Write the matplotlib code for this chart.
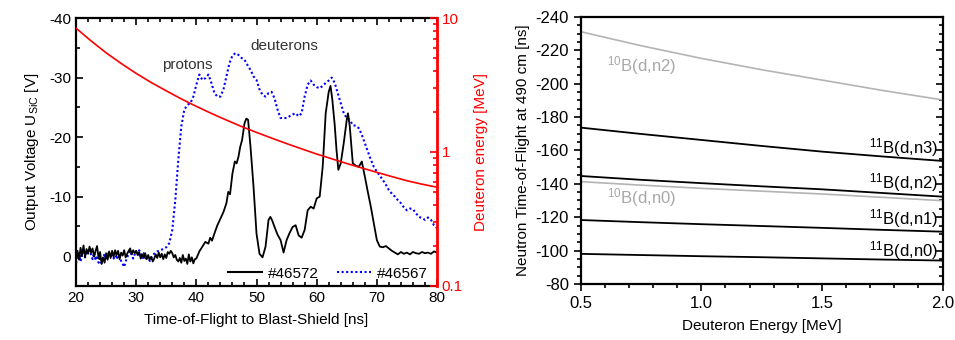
import numpy as np
import matplotlib
matplotlib.use("Agg")
import matplotlib.pyplot as plt
from matplotlib.ticker import MultipleLocator, LogLocator, NullFormatter
from matplotlib.lines import Line2D

# ---- left panel: SiC detector traces ----
t_noise_black = np.arange(20.0, 40.0, 0.25)
v_noise_black = [0.3, -0.9, 0.6, -1.4, -0.2, -1.8, 0.2, -1.2, -0.4, -1.6,
                 -0.6, -1.3, 0.1, -0.9, -1.7, 0.4, -0.7, 1.3, 0.2, 1.1,
                 -0.5, 0.6, -0.8, 0.3, -0.9, 0.1, -1.0, -0.2, -0.9, 0.5,
                 -0.6, -0.1, -1.0, 0.2, -0.4, -0.9, -1.3, -0.3, -1.0, -0.5,
                 -0.9, -0.2, -0.7, 0.4, -0.3, 0.3, -0.5, 0.5, -0.2, 0.6,
                 0.1, 0.9, 0.4, -0.3, 0.3, -0.6, 0.2, -0.4, 0.5, -0.3,
                 0.3, -0.7, -0.4, -0.9, -0.5, 0.2, -0.2, 0.6, 0.9, 0.3,
                 1.1, -0.2, 0.8, 0.4, 1.3, -0.3, 0.9, 0.2, 1.2, 0.5]
t_pulse_black = [40.0, 40.5, 41.0, 41.5, 42.0, 42.3, 42.6, 43.0, 43.5, 44.0,
                 44.5, 45.0, 45.3, 45.6, 46.0, 46.4, 46.7, 47.0, 47.3, 47.6,
                 48.0, 48.3, 48.6, 49.0, 49.5, 50.0, 50.5, 51.0, 51.5, 52.0,
                 52.3, 52.6, 53.0, 53.5, 54.0, 54.5, 55.0, 55.5, 56.0, 56.5,
                 57.0, 57.5, 58.0, 58.5, 59.0, 59.5, 60.0, 60.5, 61.0, 61.5,
                 62.0, 62.3, 62.6, 63.0, 63.3, 63.6, 64.0, 64.5, 65.0, 65.2,
                 65.5, 66.0, 66.5, 67.0, 67.5, 68.0, 68.5, 69.0, 69.5, 70.0,
                 70.5, 71.0, 71.5, 72.0, 72.5, 73.0, 73.5, 74.0, 74.5, 75.0,
                 75.5, 76.0, 76.5, 77.0, 77.5, 78.0, 78.5, 79.0, 79.5, 80.0]
v_pulse_black = [0.4, -0.8, -1.6, -2.4, -2.1, -3.1, -2.6, -3.8, -5.2, -6.3,
                 -7.4, -8.9, -10.8, -10.4, -13.9, -15.9, -15.6, -16.7, -18.4, -19.5,
                 -22.3, -23.1, -22.9, -18.4, -11.7, -3.8, -0.4, 0.2, -1.6, -6.1,
                 -6.6, -6.0, -4.9, -3.6, -2.7, -0.6, -2.7, -3.9, -4.9, -5.2,
                 -3.5, -3.1, -4.4, -7.7, -8.3, -8.0, -9.7, -10.0, -15.0, -24.0,
                 -27.6, -28.6, -26.3, -22.0, -17.8, -14.5, -15.6, -19.0, -22.9, -24.0,
                 -21.8, -15.6, -15.2, -15.0, -15.9, -13.4, -10.8, -8.3, -5.5, -2.7,
                 -1.6, -1.5, -1.7, -1.3, -0.9, -0.6, -0.3, -0.7, -0.4, -0.6,
                 -0.3, -0.7, -0.5, -0.4, -0.7, -0.5, -0.6, -0.4, -0.8, -0.6]

t_noise_blue = np.arange(20.0, 33.0, 0.25)
v_noise_blue = [1.2, 0.3, -0.8, 0.9, -0.3, -1.1, 0.2, -0.9, -0.4, -1.4,
                -0.2, 0.5, -0.6, 0.7, -0.1, 1.1, 0.4, 1.2, 0.3, -0.4,
                0.6, -0.2, -0.7, 0.2, -0.5, 0.4, -0.6, 0.5, -0.2, 0.3,
                0.8, 1.3, 1.8, 0.9, 0.2, -0.4, -0.9, -0.2, 0.4, -0.3,
                -0.8, -0.1, -1.0, -0.4, 0.3, -0.5, 0.2, 0.6, 0.1, 0.8,
                0.3, -0.2]
t_pulse_blue = [33.0, 33.5, 34.0, 34.5, 35.0, 35.5, 36.0, 36.5, 37.0, 37.5,
                38.0, 38.5, 39.0, 39.5, 40.0, 40.5, 41.0, 41.5, 42.0, 42.5,
                43.0, 43.5, 44.0, 44.5, 45.0, 45.5, 46.0, 46.5, 47.0, 47.5,
                48.0, 48.5, 49.0, 49.5, 50.0, 50.5, 51.0, 51.5, 52.0, 52.5,
                53.0, 53.5, 54.0, 54.5, 55.0, 55.5, 56.0, 56.5, 57.0, 57.5,
                58.0, 58.5, 59.0, 59.5, 60.0, 60.5, 61.0, 61.5, 62.0, 62.5,
                63.0, 63.5, 64.0, 64.5, 65.0, 65.5, 66.0, 66.5, 67.0, 67.5,
                68.0, 68.5, 69.0, 69.5, 70.0, 70.5, 71.0, 71.5, 72.0, 72.5,
                73.0, 73.5, 74.0, 74.5, 75.0, 75.5, 76.0, 76.5, 77.0, 77.5,
                78.0, 78.5, 79.0, 79.5, 80.0]
v_pulse_blue = [-0.4, -0.8, -1.0, -1.2, -1.5, -2.2, -4.4, -9.4, -16.2, -21.8,
                -24.6, -25.4, -25.7, -26.8, -28.8, -30.5, -29.6, -29.9, -30.5, -29.1,
                -27.4, -26.8, -26.8, -28.0, -30.2, -32.4, -33.7, -34.1, -33.8, -33.3,
                -33.0, -32.1, -31.3, -30.2, -29.6, -28.0, -27.1, -26.8, -27.4, -27.6,
                -26.5, -24.6, -23.2, -23.2, -23.2, -23.5, -23.8, -24.0, -23.5, -24.0,
                -26.8, -28.8, -29.5, -28.8, -28.4, -28.2, -28.6, -29.1, -29.5, -30.0,
                -29.1, -27.4, -25.7, -24.0, -23.2, -22.9, -22.0, -21.9, -21.5, -20.4,
                -19.0, -17.6, -16.2, -15.0, -14.2, -13.5, -12.8, -12.0, -11.1, -10.5,
                -10.0, -9.4, -8.9, -8.2, -7.7, -8.0, -7.9, -7.2, -6.6, -6.4,
                -6.1, -6.5, -6.1, -5.2, -4.7]

t_energy = [20, 22.5, 25, 27.5, 30, 32.5, 35, 37.5, 40, 42.5, 45, 47.5, 50,
            52.5, 55, 57.5, 60, 62.5, 65, 67.5, 70, 72.5, 75, 77.5, 80]
e_energy = [8.4, 6.75, 5.5, 4.58, 3.86, 3.3, 2.86, 2.49, 2.19, 1.94, 1.73, 1.55, 1.40,
            1.27, 1.155, 1.055, 0.965, 0.89, 0.82, 0.76, 0.705, 0.655, 0.61, 0.575, 0.546]

# ---- right panel: neutron time-of-flight ----
e_deut = [0.5, 0.75, 1.0, 1.25, 1.5, 1.75, 2.0]
tof_10b_n2 = [-231.2, -222.8, -215.2, -208.4, -202.2, -196.0, -190.3]
tof_11b_n3 = [-173.7, -169.9, -166.3, -162.7, -159.3, -156.4, -153.7]
tof_11b_n2 = [-144.7, -142.4, -140.4, -138.5, -136.7, -134.5, -132.3]
tof_10b_n0 = [-141.3, -139.2, -137.3, -135.6, -133.9, -131.9, -129.9]
tof_11b_n1 = [-118.3, -117.0, -115.8, -114.7, -113.6, -112.4, -111.3]
tof_11b_n0 = [-98.0, -97.3, -96.6, -96.0, -95.3, -94.6, -94.0]

plt.rcParams["font.family"] = "Liberation Sans"
plt.rcParams["mathtext.fontset"] = "custom"
plt.rcParams["mathtext.rm"] = "Liberation Sans"
plt.rcParams["mathtext.it"] = "Liberation Sans:italic"
plt.rcParams["axes.unicode_minus"] = False
plt.rcParams["font.size"] = 11

fig = plt.figure(figsize=(9.55, 3.4), dpi=100)

# Left panel
ax = fig.add_axes([0.0796, 0.159, 0.378, 0.788])
t_black = np.concatenate([t_noise_black, t_pulse_black])
v_black = np.concatenate([v_noise_black, v_pulse_black])
t_blue = np.concatenate([t_noise_blue, t_pulse_blue])
v_blue = np.concatenate([v_noise_blue, v_pulse_blue])
ax.plot(t_black, v_black, color="black", lw=1.3, zorder=3)
ax.plot(t_blue, v_blue, color="#0000ff", lw=1.5, linestyle=(0, (1, 1.2)), zorder=2)
ax.set_xlim(20, 80)
ax.set_ylim(5, -40)
ax.xaxis.set_major_locator(MultipleLocator(10))
ax.xaxis.set_minor_locator(MultipleLocator(2))
ax.yaxis.set_major_locator(MultipleLocator(10))
ax.yaxis.set_minor_locator(MultipleLocator(5))
ax.set_yticks([-40, -30, -20, -10, 0])
ax.tick_params(which="both", direction="in", top=True, labelsize=11, width=1.2)
ax.tick_params(which="major", length=5)
ax.tick_params(which="minor", length=3)
for s in ["left", "bottom", "top"]:
    ax.spines[s].set_linewidth(1.6)
ax.spines["right"].set_visible(False)
ax.set_xlabel("Time-of-Flight to Blast-Shield [ns]", fontsize=11, labelpad=6)
ax.set_ylabel("Output Voltage U$_{\\mathregular{SiC}}$ [V]", fontsize=11, labelpad=6)
ax.text(34.35, -31.5, "protons", color="#333333", fontsize=11, ha="left", va="baseline")
ax.text(48.9, -34.6, "deuterons", color="#333333", fontsize=11, ha="left", va="baseline")

handles = [Line2D([], [], color="black", lw=1.5),
           Line2D([], [], color="#0000ff", lw=1.5, linestyle=(0, (1, 1.2)))]
ax.legend(handles, ["#46572", "#46567"], loc="lower right", ncol=2, frameon=False,
          fontsize=11, handlelength=2.2, columnspacing=1.2, handletextpad=0.4,
          bbox_to_anchor=(1.0, -0.015), borderaxespad=0.2)

ax2 = ax.twinx()
ax2.plot(t_energy, e_energy, color="#ff0000", lw=1.2)
ax2.set_yscale("log")
ax2.set_ylim(0.1, 10)
ax2.yaxis.set_major_locator(LogLocator(base=10))
ax2.yaxis.set_minor_locator(LogLocator(base=10, subs=np.arange(2, 10)))
ax2.yaxis.set_minor_formatter(NullFormatter())
ax2.set_yticks([0.1, 1, 10])
ax2.set_yticklabels(["0.1", "1", "10"])
ax2.tick_params(which="both", direction="in", colors="#ff0000", labelsize=11, width=1.2)
ax2.tick_params(which="major", length=5)
ax2.tick_params(which="minor", length=3)
ax2.spines["right"].set_color("#ff0000")
ax2.spines["right"].set_linewidth(2)
for s in ["left", "bottom", "top"]:
    ax2.spines[s].set_visible(False)
ax2.set_ylabel("Deuteron energy [MeV]", color="#ff0000", fontsize=11, labelpad=8)

# Right panel
bx = fig.add_axes([0.608, 0.165, 0.379, 0.785])
gray = "#b4b4b4"
bx.plot(e_deut, tof_10b_n2, color=gray, lw=1.2)
bx.plot(e_deut, tof_11b_n3, color="black", lw=1.3)
bx.plot(e_deut, tof_11b_n2, color="black", lw=1.3)
bx.plot(e_deut, tof_10b_n0, color=gray, lw=1.2)
bx.plot(e_deut, tof_11b_n1, color="black", lw=1.3)
bx.plot(e_deut, tof_11b_n0, color="black", lw=1.3)
bx.set_xlim(0.5, 2.0)
bx.set_ylim(-80, -240)
bx.xaxis.set_major_locator(MultipleLocator(0.5))
bx.xaxis.set_minor_locator(MultipleLocator(0.1))
bx.yaxis.set_major_locator(MultipleLocator(20))
bx.yaxis.set_minor_locator(MultipleLocator(5))
bx.xaxis.set_major_formatter(matplotlib.ticker.FormatStrFormatter("%.1f"))
bx.tick_params(which="both", direction="out", labelsize=12, width=1.2)
bx.tick_params(axis="y", which="both", right=True)
bx.tick_params(which="major", length=5)
bx.tick_params(which="minor", length=3)
for s in bx.spines.values():
    s.set_linewidth(1.6)
bx.set_xlabel("Deuteron Energy [MeV]", fontsize=11, labelpad=6)
bx.set_ylabel("Neutron Time-of-Flight at 490 cm [ns]", fontsize=11, labelpad=4)

# right-hand ticks point inward
for tick in bx.yaxis.get_major_ticks() + bx.yaxis.get_minor_ticks():
    tick.tick2line.set_marker(matplotlib.lines.TICKLEFT)

lab_fs = 12
bx.text(1.98, -158.3, "$^{\\mathregular{11}}$B(d,n3)", ha="right", va="baseline", fontsize=lab_fs)
bx.text(1.98, -137.3, "$^{\\mathregular{11}}$B(d,n2)", ha="right", va="baseline", fontsize=lab_fs)
bx.text(1.98, -115.8, "$^{\\mathregular{11}}$B(d,n1)", ha="right", va="baseline", fontsize=lab_fs)
bx.text(1.98, -96.4, "$^{\\mathregular{11}}$B(d,n0)", ha="right", va="baseline", fontsize=lab_fs)
bx.text(0.608, -128.3, "$^{\\mathregular{10}}$B(d,n0)", ha="left", va="baseline",
        fontsize=lab_fs, color="#a8a8a8")
bx.text(0.608, -207.2, "$^{\\mathregular{10}}$B(d,n2)", ha="left", va="baseline",
        fontsize=lab_fs, color="#a8a8a8")

fig.savefig("out.png", dpi=100)
